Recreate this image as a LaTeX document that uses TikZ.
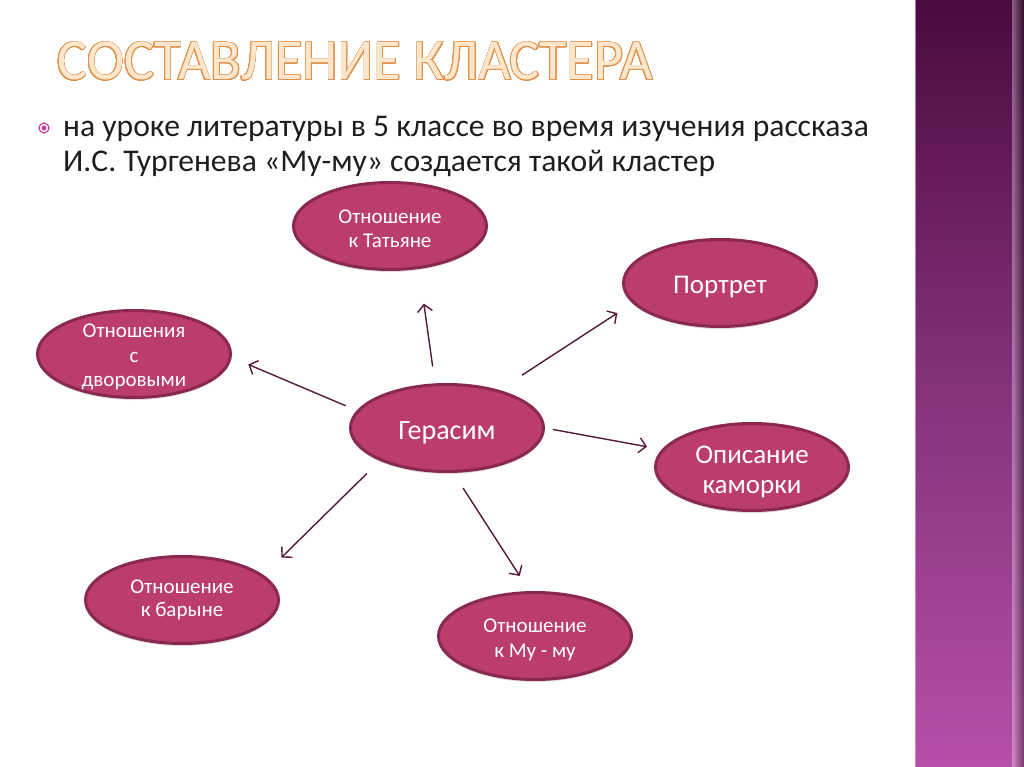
\documentclass[tikz,border=0pt]{standalone}
\usepackage{fontspec}
\setmainfont{Carlito}
\usepackage{contour}
\usetikzlibrary{shapes.geometric,arrows.meta,shadows}
\definecolor{bubfill}{HTML}{BB3D6C}
\definecolor{bubedge}{HTML}{8A2850}
\definecolor{arrcol}{HTML}{55193A}
\definecolor{titlefill}{HTML}{FCE6CC}
\definecolor{titleedge}{HTML}{E0924C}
\definecolor{bartop}{HTML}{4A0A40}
\definecolor{barmid}{HTML}{84327A}
\definecolor{barbot}{HTML}{B64FA8}
\definecolor{bulletcol}{HTML}{C0479A}
\definecolor{bodytext}{HTML}{1E1E1E}
\contourlength{0.75pt}
\contournumber{32}
\tikzset{
  bub/.style={ellipse, draw=bubedge, fill=bubfill, line width=3pt,
    minimum width=193pt, minimum height=87pt, inner sep=0pt,
    drop shadow={shadow xshift=0pt, shadow yshift=-2.5pt, opacity=0.25}},
  btxt/.style={text=white, align=center, inner sep=0pt},
  arr/.style={draw=arrcol, line width=1.4pt,
    -{Straight Barb[length=7pt,width=15pt,line width=1.4pt]}}
}
\begin{document}
\begin{tikzpicture}[x=1pt,y=-1pt]
\useasboundingbox (0,0) rectangle (1024,767);
\fill[white] (0,0) rectangle (1024,767);
% side bar
\shade[top color=bartop, bottom color=barbot, middle color=barmid] (915,0) rectangle (1024,767);
\shade[left color=black!0, right color=black, opacity=0.35] (1012,0) rectangle (1024,767);
\draw[line width=1.5pt, draw=violet!35!white, opacity=0.7] (915.5,0) -- (915.5,767);
% title
\node[anchor=base west, inner sep=0pt, font=\fontsize{58}{58}\selectfont] (title) at (57,80)
  {\scalebox{0.968}[1]{\contour{titleedge}{\color{titlefill}СОСТАВЛЕНИЕ КЛАСТЕРА}}};
% bullet
\node[circle, draw=bulletcol, line width=1.2pt, minimum size=10pt, inner sep=0pt] (bl) at (44,128) {};
\fill[bulletcol] (bl.center) circle (2.6pt);
\node[anchor=base west, inner sep=0pt, text=bodytext, font=\fontsize{31.6}{34}\selectfont] (l1) at (63,137)
  {на уроке литературы в 5 классе во время изучения рассказа};
\node[anchor=base west, inner sep=0pt, text=bodytext, font=\fontsize{31.6}{34}\selectfont] (l2) at (63,172)
  {И.С. Тургенева «Му-му» создается такой кластер};
% ellipses
\node[bub] (t) at (390,226) {};
\node[bub] (p) at (720,283) {};
\node[bub] (d) at (134,354) {};
\node[bub] (g) at (447,428) {};
\node[bub] (k) at (752,467) {};
\node[bub] (b) at (182,600) {};
\node[bub] (m) at (535,636) {};
% texts
\node[btxt, font=\fontsize{21}{23.5}\selectfont] (tt) at (390,229) {Отношение\\к Татьяне};
\node[btxt, font=\fontsize{27}{30}\selectfont] (pt) at (720,287) {Портрет};
\node[btxt, font=\fontsize{21}{24.5}\selectfont] (dt) at (134,357) {Отношения\\с\\дворовыми};
\node[btxt, font=\fontsize{28}{30}\selectfont] (gt) at (447,433) {Герасим};
\node[btxt, font=\fontsize{27}{30}\selectfont] (kt) at (752,472) {Описание\\каморки};
\node[btxt, font=\fontsize{21}{23.5}\selectfont] (bt) at (182,600) {Отношение\\к барыне};
\node[btxt, font=\fontsize{21}{24.5}\selectfont] (mt) at (535,640) {Отношение\\к Му - му};
% arrows
\draw[arr, shorten <=17pt, shorten >=35pt] (g.105.9) -- (t.-56.3);
\draw[arr, shorten <=27pt, shorten >=18pt] (g.36.9) -- (p.-167.9);
\draw[arr, shorten <=8pt, shorten >=15pt] (g.-0.4) -- (k.169);
\draw[arr, shorten <=12pt, shorten >=18pt] (g.169.8) -- (d.-2.8);
\draw[arr, shorten <=18pt, shorten >=25pt] (g.-154.2) -- (b.17.5);
\draw[arr, shorten <=18pt, shorten >=18pt] (g.-82.3) -- (m.97.8);
\end{tikzpicture}
\end{document}
